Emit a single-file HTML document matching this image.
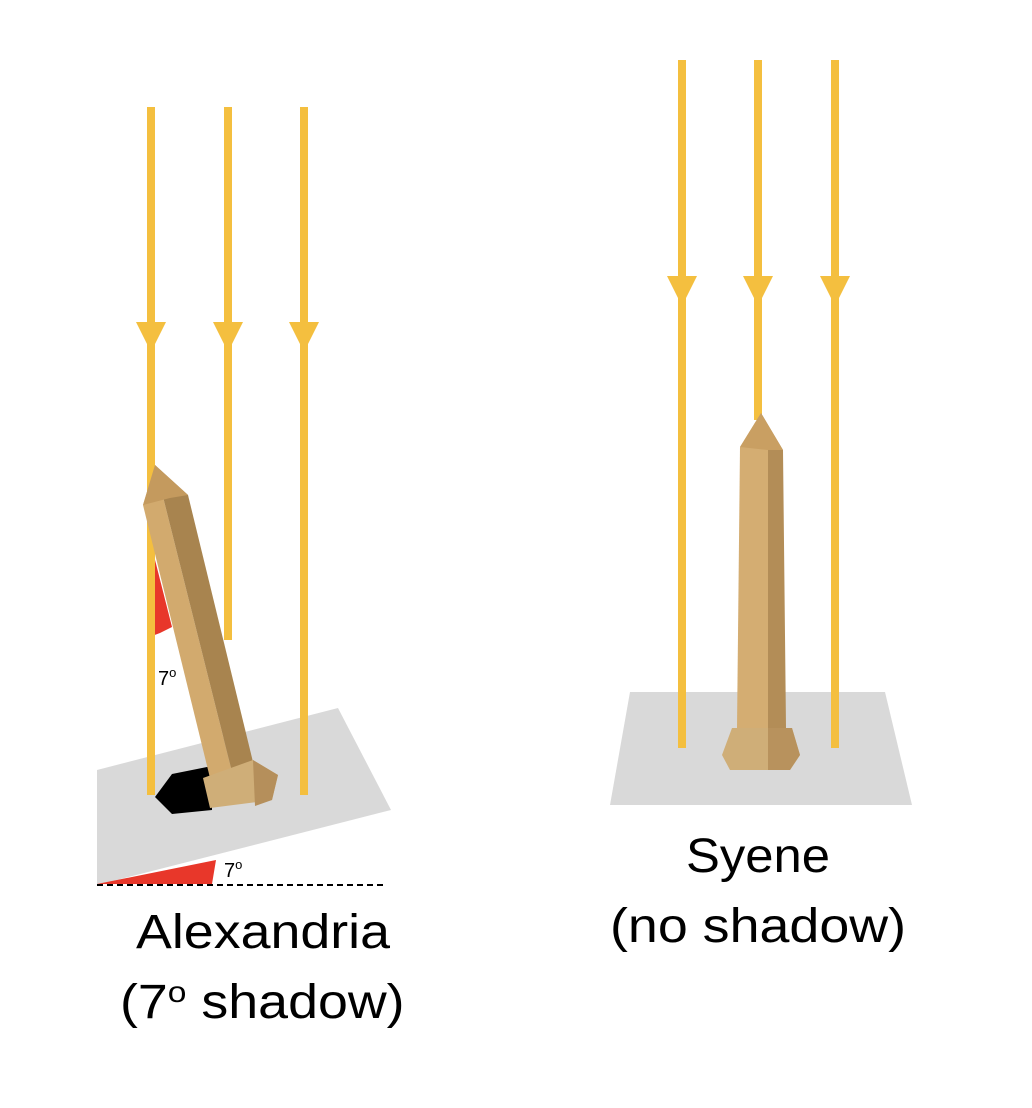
<!DOCTYPE html>
<html><head><style>html,body{margin:0;padding:0;background:#fff}svg{display:block}</style></head>
<body>
<svg width="1032" height="1108" viewBox="0 0 1032 1108" xmlns="http://www.w3.org/2000/svg" font-family="Liberation Sans, sans-serif">
<!-- left plane -->
<polygon points="97,770 338,708 391,810 97,885" fill="#d9d9d9"/>
<polygon points="97,884 216,860 212,884" fill="#e8372a"/>
<line x1="97" y1="885" x2="387" y2="885" stroke="#000" stroke-width="2" stroke-dasharray="6,4"/>
<text x="224" y="877" font-size="20">7<tspan font-size="13" dy="-8">o</tspan></text>
<!-- shadow -->
<polygon points="155,797 172,774 212,766 212,810 172,814" fill="#000"/>
<!-- red wedge -->
<polygon points="152,548 172,627 160,633 152,636" fill="#e8372a"/>
<!-- left rays -->
<g stroke="#f4bf3f" stroke-width="8">
<line x1="151" y1="107" x2="151" y2="795"/>
<line x1="228" y1="107" x2="228" y2="640"/>
<line x1="304" y1="107" x2="304" y2="795"/>
</g>
<g fill="#f4bf3f">
<polygon points="136,322 166,322 151,352"/>
<polygon points="213,322 243,322 228,352"/>
<polygon points="289,322 319,322 304,352"/>
</g>
<text x="158" y="685" font-size="20">7<tspan font-size="13" dy="-8">o</tspan></text>
<!-- left obelisk -->
<polygon points="155,465 143,505 210,778 232,772" fill="#d2aa6e"/>
<polygon points="155,465 188,495 253,762 232,772 " fill="#a8844f"/>
<polygon points="155,465 143,505 170,498 188,495" fill="#c49a5e"/>
<polygon points="203,778 253,760 278,775 272,800 210,808" fill="#cfae78"/>
<polygon points="253,760 278,775 272,800 255,806" fill="#b58f5b"/>
<!-- right plane -->
<polygon points="630,692 885,692 912,805 610,805" fill="#d9d9d9"/>
<g stroke="#f4bf3f" stroke-width="8">
<line x1="682" y1="60" x2="682" y2="748"/>
<line x1="758" y1="60" x2="758" y2="420"/>
<line x1="835" y1="60" x2="835" y2="748"/>
</g>
<g fill="#f4bf3f">
<polygon points="667,276 697,276 682,306"/>
<polygon points="743,276 773,276 758,306"/>
<polygon points="820,276 850,276 835,306"/>
</g>
<!-- right obelisk -->
<polygon points="761,413 740,447 737,728 768,728 768,448" fill="#d4ad72"/>
<polygon points="761,413 783,450 786,728 768,728 768,448" fill="#b38d57"/>
<polygon points="761,413 740,447 768,450 783,450" fill="#c99f62"/>
<polygon points="732,728 792,728 800,755 790,770 730,770 722,755" fill="#cfae78"/>
<polygon points="768,728 792,728 800,755 790,770 768,770" fill="#b8925d"/>
<!-- labels -->
<text x="686" y="872" font-size="48" textLength="144" lengthAdjust="spacingAndGlyphs">Syene</text>
<text x="610" y="942" font-size="48" textLength="296" lengthAdjust="spacingAndGlyphs">(no shadow)</text>
<text x="136" y="948" font-size="48" textLength="254" lengthAdjust="spacingAndGlyphs">Alexandria</text>
<text x="120" y="1018" font-size="48" transform="translate(120,0) scale(1.12,1) translate(-120,0)">(7<tspan font-size="30" dy="-16">o</tspan><tspan dy="16"> shadow)</tspan></text>
</svg>
</body></html>
